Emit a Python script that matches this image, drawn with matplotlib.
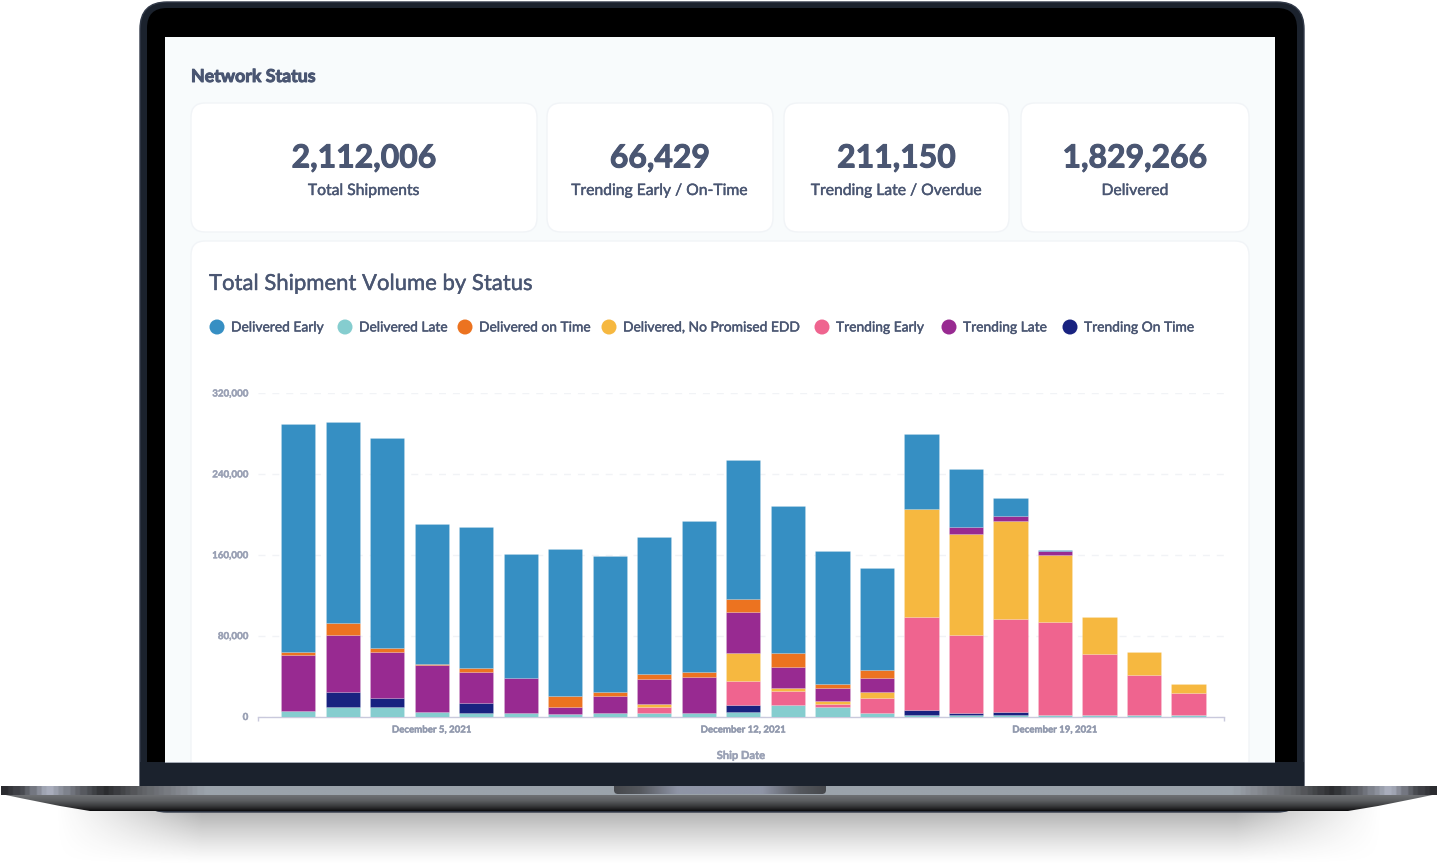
import numpy as np
import matplotlib
matplotlib.use("Agg")
import matplotlib.pyplot as plt
import matplotlib.patheffects as pe
from matplotlib.colors import LinearSegmentedColormap
from matplotlib.patches import FancyBboxPatch, Rectangle, Polygon, Circle

plt.rcParams['font.family'] = ['Lato', 'DejaVu Sans']

dates = ["Dec 2","Dec 3","Dec 4","Dec 5","Dec 6","Dec 7","Dec 8","Dec 9","Dec 10","Dec 11","Dec 12",
         "Dec 13","Dec 14","Dec 15","Dec 16","Dec 17","Dec 18","Dec 19","Dec 20","Dec 21","Dec 22"]
delivered_late = [5400,9400,9400,4200,3200,3200,2200,3200,3200,3200,4200,11100,9400,3200,1200,1200,1200,1200,1000,1000,1000]
trending_on_time = [0,15100,9200,0,9900,0,0,0,0,0,7200,0,0,0,5200,2000,3000,0,0,0,0]
trending_early = [0,0,0,0,0,0,0,0,6200,0,24000,13800,3300,15100,92300,77400,92300,92300,61100,40500,22300]
delivered_no_edd = [0,0,0,0,0,0,0,0,3300,0,27400,3300,2700,6200,106500,99900,96900,66600,36600,22700,8900]
trending_late = [55400,56100,45500,46800,31000,35200,7200,17400,24100,35600,40500,21100,12900,13800,0,6600,5200,3400,0,0,0]
delivered_on_time = [3300,11900,4000,1300,3700,0,11200,4000,5200,4900,12900,13500,4300,7600,0,0,0,0,0,0,0]
delivered_early = [225200,198800,207100,137900,139400,122000,144800,133900,135800,149900,137500,145700,131500,100600,74200,58000,17500,1300,0,0,0]

stack_order = [
    (delivered_late, "#85CDCF"), (trending_on_time, "#182280"), (trending_early, "#EF648F"),
    (delivered_no_edd, "#F6B840"), (trending_late, "#982A91"), (delivered_on_time, "#EC7320"),
    (delivered_early, "#368FC3"),
]
legend_names = ["Delivered Early","Delivered Late","Delivered on Time","Delivered, No Promised EDD",
                "Trending Early","Trending Late","Trending On Time"]
legend_colors = ["#368FC3","#85CDCF","#EC7320","#F6B840","#EF648F","#982A91","#182280"]
legend_x = [217,345,465,609,822,949,1070]
kpi_values = ["2,112,006","66,429","211,150","1,829,266"]
kpi_labels = ["Total Shipments","Trending Early / On-Time","Trending Late / Overdue","Delivered"]
kpi_boxes = [(191,537),(547,773),(784,1009),(1021,1249)]
y_ticks = [0,80000,160000,240000,320000]
date_ticks = {3:"December 5, 2021",10:"December 12, 2021",17:"December 19, 2021"}

W,H = 1438,865
INK = "#4a5672"
fig = plt.figure(figsize=(W/100,H/100),dpi=100,facecolor="white")
bg = fig.add_axes([0,0,1,1],zorder=0)
bg.set_axis_off()
thick = [pe.withStroke(linewidth=0.3,foreground=INK)]
heavy = [pe.withStroke(linewidth=0.7,foreground=INK)]
tick_heavy = [pe.withStroke(linewidth=0.3,foreground="#9aa1b5")]

def hgrad(stops, x0, x1, y0, y1, clip=None, z=2):
    cm = LinearSegmentedColormap.from_list("g",stops)
    im = bg.imshow(np.linspace(0,1,600)[None,:],cmap=cm,extent=(x0,x1,y1,y0),aspect="auto",zorder=z)
    if clip is not None:
        im.set_clip_path(clip)
    return im

def vgrad(stops, x0, x1, y0, y1, clip=None, z=2):
    cm = LinearSegmentedColormap.from_list("g",stops)
    im = bg.imshow(np.linspace(0,1,100)[:,None],cmap=cm,extent=(x0,x1,y1,y0),aspect="auto",zorder=z)
    if clip is not None:
        im.set_clip_path(clip)
    return im

# shadow below the laptop
sx = np.linspace(0,1,700); sy = np.linspace(0,1,60)
ax_fade = np.clip(np.minimum(sx,1-sx)/0.11,0,1)**1.2
ay_fade = (1-sy)**1.2
rgba = np.zeros((60,700,4)); rgba[...,:3] = 0.55
rgba[...,3] = np.outer(ay_fade,ax_fade)*0.72
bg.imshow(rgba,extent=(55,1383,864,808),aspect="auto",zorder=1)

# lid
bg.add_patch(FancyBboxPatch((140,2),1164,810,boxstyle="round,pad=0,rounding_size=27",fc="#1b222d",ec="#323a49",lw=1,zorder=2))
bg.add_patch(FancyBboxPatch((147,8),1150,780,boxstyle="round,pad=0,rounding_size=20",fc="#000000",ec="none",zorder=3))
bg.add_patch(Rectangle((140,762),1164,26,fc="#1b222d",ec="none",zorder=4))
bg.add_patch(Rectangle((165,37),1110,725,fc="#f8fbfc",ec="none",zorder=5))

# base
base_clip = Polygon([(1,786),(1437,786),(1437,794),(1418,798),(1378,806),(1348,811),(90,811),(60,806),(20,798),(1,794)],
                    closed=True,fc="none",ec="none",transform=bg.transData,zorder=7)
bg.add_patch(base_clip)
vgrad([(0,"#6f7174"),(0.35,"#5c5e61"),(0.7,"#38393b"),(0.9,"#1c1c1e"),(1,"#0a0a0b")],0,W,795,811,clip=base_clip,z=7)
strip = [(0,"#2b2c30"),(0.012,"#4a4c52"),(0.03,"#aeb3c2"),(0.05,"#666970"),(0.07,"#2a2b2e"),
         (0.095,"#5e6064"),(0.125,"#888c93"),(0.14,"#9ba3ab"),(0.86,"#9ba3ab"),(0.875,"#888c93"),
         (0.905,"#5e6064"),(0.93,"#2a2b2e"),(0.95,"#666970"),(0.97,"#aeb3c2"),(0.988,"#4a4c52"),(1,"#2b2c30")]
strip_clip = Rectangle((1,786),1436,9,fc="none",ec="none",transform=bg.transData)
bg.add_patch(strip_clip)
hgrad(strip,1,1437,786,795,clip=strip_clip,z=8)
notch = FancyBboxPatch((614,780),212,14,boxstyle="round,pad=0,rounding_size=4",fc="none",ec="none",transform=bg.transData)
bg.add_patch(notch)
hgrad([(0,"#46484c"),(0.12,"#55585e"),(0.3,"#8f95a6"),(0.7,"#8f95a6"),(0.88,"#55585e"),(1,"#46484c")],614,826,786,794,clip=notch,z=9)

# cards
def card(x0,x1,y0,y1):
    bg.add_patch(FancyBboxPatch((x0,y0),x1-x0,y1-y0,boxstyle="round,pad=0,rounding_size=14",
                                fc="white",ec="#f1f4f7",lw=1.0,zorder=6))
for (a,b),v,l in zip(kpi_boxes,kpi_values,kpi_labels):
    card(a,b,103,232)
    c=(a+b)/2
    bg.text(c,158,v,ha="center",va="center",fontsize=23,fontweight="bold",color=INK,zorder=7,path_effects=heavy)
    bg.text(c,191,l,ha="center",va="center",fontsize=11.3,color=INK,zorder=7,path_effects=thick)
card(191,1249,241,790)
bg.add_patch(Rectangle((165,762.7),1110,23.3,fc="#1b222d",ec="none",zorder=6.5))
bg.add_patch(Rectangle((165,761.5),1110,1.2,fc="#a5abb5",ec="none",zorder=6.6))

bg.text(191,76.5,"Network Status",ha="left",va="center",fontsize=12.8,fontweight="bold",color=INK,zorder=7,path_effects=heavy)
bg.text(209,284,"Total Shipment Volume by Status",ha="left",va="center",fontsize=15.9,color=INK,zorder=7,path_effects=thick)
for x,n,c in zip(legend_x,legend_names,legend_colors):
    bg.add_patch(Circle((x,327),7.5,fc=c,ec="none",zorder=7))
    bg.text(x+14,327.5,n,ha="left",va="center",fontsize=9.95,color=INK,zorder=7,path_effects=thick)

bg.set_xlim(0,W); bg.set_ylim(H,0)

# chart
left,right,top,bottom = 258,1224,393,716.5
ax = fig.add_axes([left/W,1-bottom/H,(right-left)/W,(bottom-top)/H],zorder=5)
ax.patch.set_alpha(0)
pos = np.arange(len(dates))
running = np.zeros(len(dates))
for vals,col in stack_order:
    arr = np.array(vals,dtype=float)
    keep = arr > 0
    ax.bar(pos[keep],arr[keep],bottom=running[keep],width=0.77,color=col,
           edgecolor=(1,1,1,0.2),lw=0.5,zorder=3)
    running += arr
ax.set_xlim(-0.906,20.80)
ax.set_ylim(0,320000)
ax.set_yticks(y_ticks)
ax.set_yticklabels([f"{v:,}" for v in y_ticks],fontsize=7.0,fontweight="bold",color="#9aa1b5",path_effects=tick_heavy)
ax.set_xticks(list(date_ticks))
ax.set_xticklabels(list(date_ticks.values()),fontsize=6.95,fontweight="bold",color="#9199ad",path_effects=tick_heavy)
ax.tick_params(axis="both",length=0)
ax.tick_params(axis="y",pad=7)
ax.tick_params(axis="x",pad=6.5)
ax.set_xlabel("Ship Date",fontsize=8.0,fontweight="bold",color="#9aa1b5",path_effects=tick_heavy)
ax.xaxis.set_label_coords(0.5,-0.1035)
ax.grid(axis="y",color="#f1f3f6",lw=1,ls=(0,(5,5)),zorder=1)
ax.set_axisbelow(True)
for s in ("top","left","right"):
    ax.spines[s].set_visible(False)
ax.spines["bottom"].set_color("#c9c9dc")
ax.spines["bottom"].set_linewidth(1)
ax.set_xticks([-0.906,20.80],minor=True)
ax.tick_params(axis="x",which="minor",length=3,color="#c9c9dc",width=1)

fig.savefig("out.png",dpi=100,facecolor="white")
